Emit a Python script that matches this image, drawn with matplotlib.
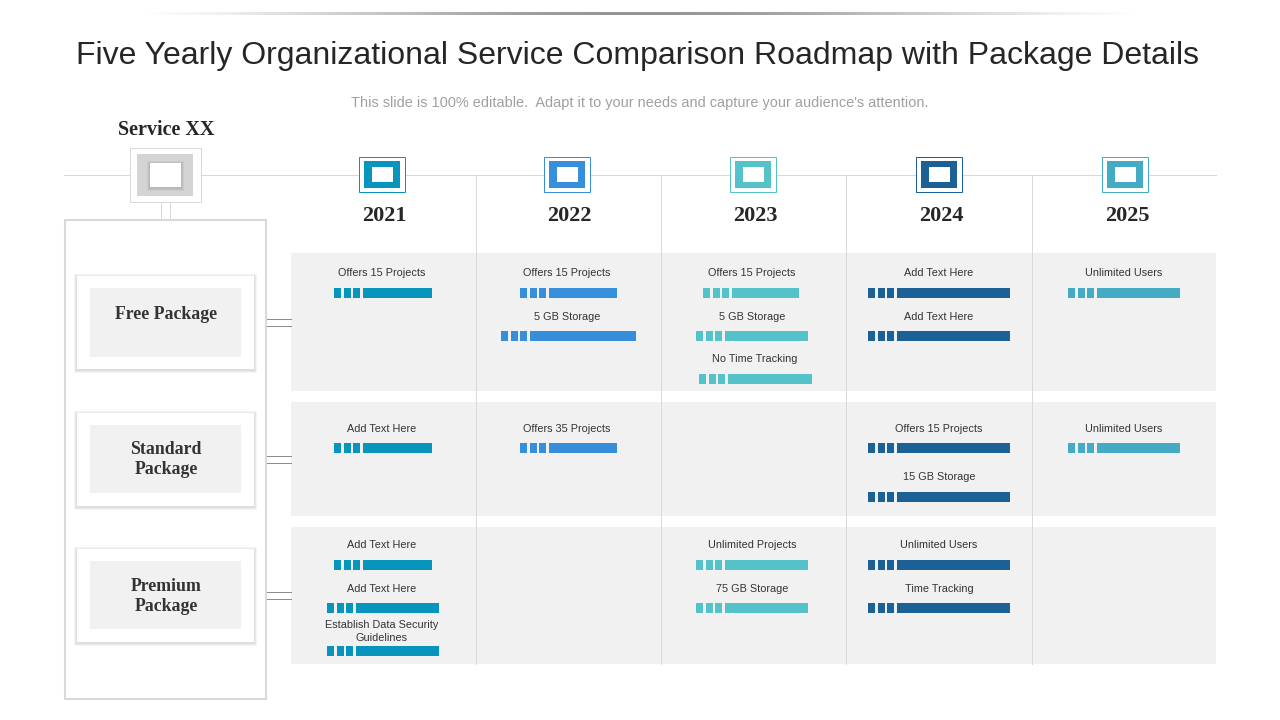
import matplotlib.pyplot as plt
from matplotlib.patches import Rectangle
import numpy as np

plt.rcParams['font.family'] = ['Liberation Sans', 'DejaVu Sans']

title = 'Five Yearly Organizational Service Comparison Roadmap with Package Details'
subtitle = "This slide is 100% editable.  Adapt it to your needs and capture your audience's attention."

years = ['2021', '2022', '2023', '2024', '2025']
year_colors = ['#0795bd', '#378fdc', '#55c1c8', '#1b6196', '#45abc5']
year_x = [382, 567, 753, 939, 1125]
packages = ['Free Package', 'Standard\nPackage', 'Premium\nPackage']
package_y = [314.5, 459.5, 596.5]

# each item: year index, label, label centre, bar start, bar end, row y
free_items = [
    (0, 'Offers 15 Projects', 382, 334, 432, 293),
    (1, 'Offers 15 Projects', 567, 520, 617, 293),
    (1, '5 GB Storage', 567, 501, 636, 336),
    (2, 'Offers 15 Projects', 752, 703, 799, 293),
    (2, '5 GB Storage', 752, 696, 808, 336),
    (2, 'No Time Tracking', 755, 699, 812, 379),
    (3, 'Add Text Here', 939, 868, 1010, 293),
    (3, 'Add Text Here', 939, 868, 1010, 336),
    (4, 'Unlimited Users', 1124, 1068, 1180, 293),
]
standard_items = [
    (0, 'Add Text Here', 382, 334, 432, 448),
    (1, 'Offers 35 Projects', 567, 520, 617, 448),
    (3, 'Offers 15 Projects', 939, 868, 1010, 448),
    (3, '15 GB Storage', 939, 868, 1010, 497),
    (4, 'Unlimited Users', 1124, 1068, 1180, 448),
]
premium_items = [
    (0, 'Add Text Here', 382, 334, 432, 565),
    (0, 'Add Text Here', 382, 327, 439, 608),
    (0, 'Establish Data Security\nGuidelines', 382, 327, 439, 651),
    (2, 'Unlimited Projects', 752, 696, 808, 565),
    (2, '75 GB Storage', 752, 696, 808, 608),
    (3, 'Unlimited Users', 939, 868, 1010, 565),
    (3, 'Time Tracking', 939, 868, 1010, 608),
]

fig, ax = plt.subplots(figsize=(12.8, 7.2), dpi=100)
fig.subplots_adjust(0, 0, 1, 1)
ax.axis('off')

GRID = '#d9d9d9'
PANEL = '#f1f1f1'
serif = ['Liberation Serif', 'DejaVu Serif']


def box(x0, y0, x1, y1, fc='white', ec='none', lw=0, z=2):
    ax.add_patch(Rectangle((x0, y0), x1 - x0, y1 - y0, fc=fc, ec=ec, lw=lw, zorder=z))


def shadow(x0, y0, x1, y1, z=2, size=4):
    # rough soft shadow, a few stacked see-through rectangles
    for i in range(size, 0, -1):
        ax.add_patch(Rectangle((x0 - i, y0 - i + 1), x1 - x0 + 2 * i, y1 - y0 + 2 * i,
                               fc='black', ec='none', alpha=0.045, zorder=z))


# faded line on the top
fade = np.sin(np.linspace(0, np.pi, 300)).reshape(1, -1)
ax.imshow(fade, extent=(140, 1140, 15, 12), cmap='Greys', vmin=0, vmax=2.0, aspect='auto', zorder=1)

ax.text(637, 56, title, ha='center', va='center', fontsize=23.0, color='#262626')
ax.text(640, 103, subtitle, ha='center', va='center', fontsize=10.42, color='#a0a0a0')

# panels
box(291, 253, 1216, 391, fc=PANEL, z=1)
box(291, 402, 1216, 516, fc=PANEL, z=1)
box(291, 527, 1216, 664, fc=PANEL, z=1)

# grid lines
ax.plot([64, 1216], [175.2, 175.2], color=GRID, lw=0.72, zorder=1.5)
for x in [476.2, 661.2, 846.2, 1032.2]:
    ax.plot([x, x], [176, 664], color=GRID, lw=0.72, zorder=1.5)

# left column
box(65, 219.5, 266, 699, ec=GRID, lw=1.5, z=1.6)
ax.plot([161.2, 161.2], [203, 219], color=GRID, lw=0.72)
ax.plot([170.2, 170.2], [203, 219], color=GRID, lw=0.72)
box(130.2, 148.2, 201.2, 202.2, ec=GRID, lw=0.72)
box(137, 154, 193, 196, fc='#d4d4d4', z=2.1)
shadow(150, 163, 181, 187, z=2.2, size=3)
box(150, 163, 181, 187, z=2.3)
ax.text(166, 130, 'Service XX', ha='center', va='center', fontsize=14.5, family=serif,
        weight='bold', color='#262626')

package_boxes = [(276, 369, 288, 357), (413, 506, 425, 493), (549, 642, 561, 629)]
for name, name_y, (y0, y1, iy0, iy1) in zip(packages, package_y, package_boxes):
    shadow(77, y0, 254, y1, z=2, size=3)
    box(77, y0, 254, y1, z=2.3)
    box(90, iy0, 241, iy1, fc=PANEL, z=2.4)
    ax.text(166, name_y, name, ha='center', va='center', fontsize=12.8, family=serif,
            weight='bold', color='#333333', linespacing=1.22, zorder=3)
    mid = (y0 + y1) / 2
    for dy in [-3.5, 3.5]:
        ax.plot([266, 291], [mid + dy, mid + dy], color='#8c8c8c', lw=0.72, zorder=1.5)

# year icons
for year, color, x in zip(years, year_colors, year_x):
    box(x - 23.3, 157.2, x + 23.2, 191.7, ec=color, lw=0.72)
    box(x - 18, 161, x + 18, 188, fc=color, z=2.1)
    box(x - 10.5, 167, x + 10.5, 182, z=2.3)
    ax.text(x + 2, 216, year, ha='center', va='center', fontsize=16, family=serif,
            weight='bold', color='#262626')

# bars and labels
for item in free_items + standard_items + premium_items:
    i, label, tx, start, end, y = item
    ax.broken_barh([(start, 7), (start + 9.5, 7), (start + 19, 7), (start + 28.5, end - start - 28.5)],
                   (y - 5, 10), facecolors=year_colors[i], zorder=3)
    if '\n' in label:
        ax.text(tx, y - 19.5, label, ha='center', va='center', fontsize=7.8, color='#333333', linespacing=1.35)
    else:
        ax.text(tx, y - 19.5, label, ha='center', va='center', fontsize=7.8, color='#333333')

ax.set_xlim(0, 1280)
ax.set_ylim(720, 0)
fig.savefig('out.png', dpi=100)
